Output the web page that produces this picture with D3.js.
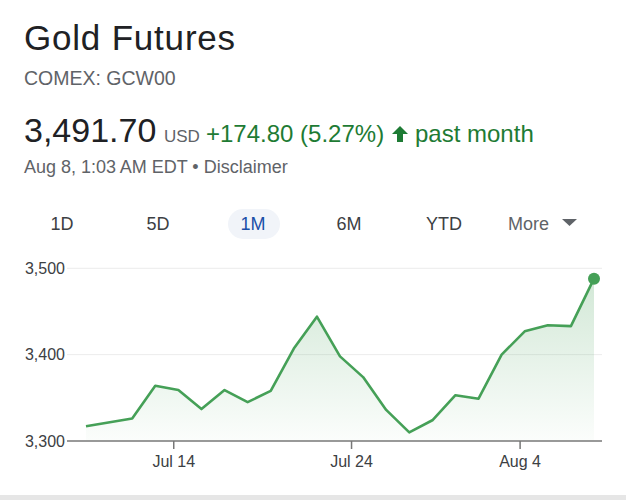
<!DOCTYPE html>
<html>
<head>
<meta charset="utf-8">
<script src="https://d3js.org/d3.v7.min.js"></script>
<style>
  html, body { margin: 0; padding: 0; background: #fff; }
  svg { display: block; font-family: "Liberation Sans", Arial, sans-serif; }
</style>
</head>
<body>
<script>
// Gold futures, 1M view — prices
const slots = [0, 2, 3, 4, 5, 6, 7, 8, 9, 10, 11, 12, 13, 14, 15, 16, 17, 18, 19, 20, 21, 22];
const prices = [3317, 3326, 3364, 3359, 3337, 3359, 3345, 3358, 3407, 3444, 3398, 3374,
                3336, 3310, 3324, 3353, 3349, 3400, 3427, 3434, 3433, 3488];
const xTickSlots = [3.8, 11.5, 18.8];
const xTickLabels = ["Jul 14", "Jul 24", "Aug 4"];
const yTicks = [3300, 3400, 3500];
const tabs = ["1D", "5D", "1M", "6M", "YTD"];
const tabCenters = [62, 158, 253, 349, 444];

const width = 626, height = 500;
const green = "#45a057";
const textGreen = "#1e7b34";

const svg = d3.select("body")
  .append("svg")
  .attr("width", width)
  .attr("height", height);

// ---- header ----
svg.append("text")
  .attr("x", 24).attr("y", 50)
  .style("font-size", "35px")
  .style("letter-spacing", "0.8px")
  .style("fill", "#202124")
  .text("Gold Futures");

svg.append("text")
  .attr("x", 24).attr("y", 85)
  .style("font-size", "19.5px")
  .style("fill", "#5f6368")
  .text("COMEX: GCW00");

svg.append("text")
  .attr("x", 24).attr("y", 142)
  .style("font-size", "34px")
  .style("fill", "#202124")
  .text("3,491.70");

svg.append("text")
  .attr("x", 164).attr("y", 142)
  .style("font-size", "17px")
  .style("fill", "#5f6368")
  .text("USD");

svg.append("text")
  .attr("x", 206).attr("y", 142)
  .style("font-size", "24px")
  .style("fill", textGreen)
  .text("+174.80 (5.27%)");

// up arrow
svg.append("path")
  .attr("d", "M400,126 L408,134 L403,134 L403,142 L397,142 L397,134 L392,134 Z")
  .attr("fill", textGreen);

svg.append("text")
  .attr("x", 415).attr("y", 142)
  .style("font-size", "24px")
  .style("fill", textGreen)
  .text("past month");

svg.append("text")
  .attr("x", 24).attr("y", 173)
  .style("font-size", "18px")
  .style("fill", "#5f6368")
  .text("Aug 8, 1:03\u2009AM EDT \u2022 Disclaimer");

// ---- range tabs ----
svg.append("rect")
  .attr("x", 228).attr("y", 209)
  .attr("width", 52).attr("height", 30)
  .attr("rx", 15)
  .attr("fill", "#f1f4f9");

svg.selectAll(".tab")
  .data(tabs)
  .enter()
  .append("text")
  .attr("class", "tab")
  .attr("x", (d, i) => tabCenters[i])
  .attr("y", 230)
  .attr("text-anchor", "middle")
  .style("font-size", "18px")
  .style("fill", d => d === "1M" ? "#1a4fa8" : "#3c4043")
  .text(d => d);

svg.append("text")
  .attr("x", 508).attr("y", 230)
  .style("font-size", "18px")
  .style("fill", "#5f6368")
  .text("More");
svg.append("path")
  .attr("d", "M562,219 L577,219 L569.5,226 Z")
  .attr("fill", "#5f6368");

// ---- chart ----
const plotLeft = 67, plotRight = 602;
const x = d3.scaleLinear().domain([0, 22]).range([86, 594]);
const y = d3.scaleLinear().domain([3300, 3500]).range([441, 268.3]);

const data = slots.map((s, i) => ({ s, v: prices[i] }));

const defs = svg.append("defs");
const grad = defs.append("linearGradient")
  .attr("id", "fillGrad")
  .attr("x1", 0).attr("y1", 0).attr("x2", 0).attr("y2", 1);
grad.append("stop").attr("offset", "0%").attr("stop-color", green).attr("stop-opacity", 0.24);
grad.append("stop").attr("offset", "100%").attr("stop-color", green).attr("stop-opacity", 0.02);

// gridlines
svg.selectAll(".grid")
  .data(yTicks.filter(t => t !== 3300))
  .enter()
  .append("line")
  .attr("x1", plotLeft).attr("x2", plotRight)
  .attr("y1", d => y(d)).attr("y2", d => y(d))
  .attr("stroke", "#ececec")
  .attr("stroke-width", 1);

// y labels
svg.selectAll(".ylab")
  .data(yTicks)
  .enter()
  .append("text")
  .attr("x", 65)
  .attr("y", d => y(d) + 5.5)
  .attr("text-anchor", "end")
  .style("font-size", "16px")
  .style("fill", "#3c4043")
  .text(d => d3.format(",")(d));

// area + line
const area = d3.area()
  .x(d => x(d.s))
  .y0(y(3300))
  .y1(d => y(d.v));
svg.append("path")
  .datum(data)
  .attr("d", area)
  .attr("fill", "url(#fillGrad)")
  .attr("stroke", "none");

const line = d3.line()
  .x(d => x(d.s))
  .y(d => y(d.v));
svg.append("path")
  .datum(data)
  .attr("d", line)
  .attr("fill", "none")
  .attr("stroke", green)
  .attr("stroke-width", 2.6)
  .attr("stroke-linejoin", "round");

// x axis baseline + ticks
svg.append("line")
  .attr("x1", plotLeft).attr("x2", plotRight)
  .attr("y1", y(3300)).attr("y2", y(3300))
  .attr("stroke", "#777")
  .attr("stroke-width", 1.5);

svg.selectAll(".xtick")
  .data(xTickSlots)
  .enter()
  .append("line")
  .attr("x1", d => x(d)).attr("x2", d => x(d))
  .attr("y1", y(3300)).attr("y2", y(3300) + 8)
  .attr("stroke", "#777")
  .attr("stroke-width", 1.5);

svg.selectAll(".xlab")
  .data(xTickLabels)
  .enter()
  .append("text")
  .attr("x", (d, i) => x(xTickSlots[i]))
  .attr("y", 467)
  .attr("text-anchor", "middle")
  .style("font-size", "16px")
  .style("fill", "#3c4043")
  .text(d => d);

// last point marker
const last = data[data.length - 1];
svg.append("circle")
  .attr("cx", x(last.s))
  .attr("cy", y(last.v))
  .attr("r", 6)
  .attr("fill", green);

// bottom divider
svg.append("rect")
  .attr("x", 0).attr("y", 495)
  .attr("width", width).attr("height", 5)
  .attr("fill", "#e6e6e6");
</script>
</body>
</html>
